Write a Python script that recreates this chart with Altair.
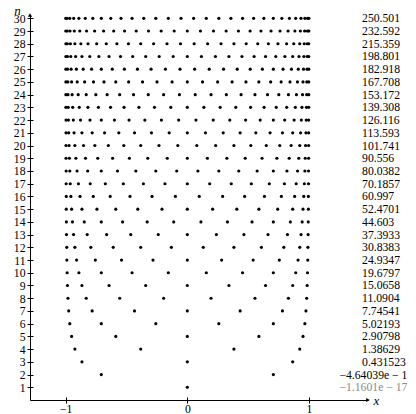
import altair as alt
import pandas as pd

# ---- data ----
n_values = list(range(1, 31))

row_01 = [0.0]
row_02 = [-0.707, 0.707]
row_03 = [-0.866, 0.0, 0.866]
row_04 = [-0.924, -0.383, 0.383, 0.924]
row_05 = [-0.951, -0.588, 0.0, 0.588, 0.951]
row_06 = [-0.966, -0.707, -0.259, 0.259, 0.707, 0.966]
row_07 = [-0.975, -0.782, -0.434, 0.0, 0.434, 0.782, 0.975]
row_08 = [-0.981, -0.831, -0.556, -0.195, 0.195, 0.556, 0.831, 0.981]
row_09 = [-0.985, -0.866, -0.643, -0.342, 0.0, 0.342, 0.643, 0.866, 0.985]
row_10 = [-0.988, -0.891, -0.707, -0.454, -0.156, 0.156, 0.454, 0.707, 0.891, 0.988]
row_11 = [-0.990, -0.910, -0.756, -0.541, -0.282, 0.0, 0.282, 0.541, 0.756, 0.910, 0.990]
row_12 = [-0.991, -0.924, -0.793, -0.609, -0.383, -0.131, 0.131, 0.383, 0.609, 0.793, 0.924, 0.991]
row_13 = [-0.993, -0.935, -0.823, -0.663, -0.465, -0.239, 0.0, 0.239, 0.465, 0.663, 0.823, 0.935, 0.993]
row_14 = [-0.994, -0.944, -0.847, -0.707, -0.532, -0.330, -0.112, 0.112, 0.330, 0.532, 0.707, 0.847, 0.944, 0.994]
row_15 = [-0.995, -0.951, -0.866, -0.743, -0.588, -0.407, -0.208, 0.0, 0.208, 0.407, 0.588, 0.743, 0.866, 0.951, 0.995]
row_16 = [-0.995, -0.957, -0.882, -0.773, -0.634, -0.471, -0.290, -0.098, 0.098, 0.290, 0.471, 0.634, 0.773, 0.882, 0.957, 0.995]
row_17 = [-0.996, -0.962, -0.895, -0.798, -0.674, -0.526, -0.361, -0.184, 0.0, 0.184, 0.361, 0.526, 0.674, 0.798, 0.895, 0.962, 0.996]
row_18 = [-0.996, -0.966, -0.906, -0.819, -0.707, -0.574, -0.423, -0.259, -0.087, 0.087, 0.259, 0.423, 0.574, 0.707, 0.819, 0.906, 0.966, 0.996]
row_19 = [-0.997, -0.969, -0.916, -0.837, -0.736, -0.614, -0.476, -0.325, -0.165, 0.0, 0.165, 0.325, 0.476, 0.614, 0.736, 0.837, 0.916, 0.969, 0.997]
row_20 = [-0.997, -0.972, -0.924, -0.853, -0.760, -0.649, -0.522, -0.383, -0.233, -0.078, 0.078, 0.233, 0.383, 0.522, 0.649, 0.760, 0.853, 0.924, 0.972, 0.997]
row_21 = [-0.997, -0.975, -0.931, -0.866, -0.782, -0.680, -0.563, -0.434, -0.295, -0.149, 0.0, 0.149, 0.295, 0.434, 0.563, 0.680, 0.782, 0.866, 0.931, 0.975, 0.997]
row_22 = [-0.997, -0.977, -0.937, -0.878, -0.800, -0.707, -0.599, -0.479, -0.349, -0.213, -0.071, 0.071, 0.213, 0.349, 0.479, 0.599, 0.707, 0.800, 0.878, 0.937, 0.977, 0.997]
row_23 = [-0.998, -0.979, -0.942, -0.888, -0.817, -0.731, -0.631, -0.520, -0.398, -0.270, -0.136, 0.0, 0.136, 0.270, 0.398, 0.520, 0.631, 0.731, 0.817, 0.888, 0.942, 0.979, 0.998]
row_24 = [-0.998, -0.981, -0.947, -0.897, -0.831, -0.752, -0.659, -0.556, -0.442, -0.321, -0.195, -0.065, 0.065, 0.195, 0.321, 0.442, 0.556, 0.659, 0.752, 0.831, 0.897, 0.947, 0.981, 0.998]
row_25 = [-0.998, -0.982, -0.951, -0.905, -0.844, -0.771, -0.685, -0.588, -0.482, -0.368, -0.249, -0.125, 0.0, 0.125, 0.249, 0.368, 0.482, 0.588, 0.685, 0.771, 0.844, 0.905, 0.951, 0.982, 0.998]
row_26 = [-0.998, -0.984, -0.955, -0.912, -0.856, -0.787, -0.707, -0.617, -0.517, -0.410, -0.298, -0.180, -0.060, 0.060, 0.180, 0.298, 0.410, 0.517, 0.617, 0.707, 0.787, 0.856, 0.912, 0.955, 0.984, 0.998]
row_27 = [-0.998, -0.985, -0.958, -0.918, -0.866, -0.802, -0.727, -0.643, -0.549, -0.449, -0.342, -0.231, -0.116, 0.0, 0.116, 0.231, 0.342, 0.449, 0.549, 0.643, 0.727, 0.802, 0.866, 0.918, 0.958, 0.985, 0.998]
row_28 = [-0.998, -0.986, -0.961, -0.924, -0.875, -0.816, -0.745, -0.666, -0.579, -0.484, -0.383, -0.277, -0.167, -0.056, 0.056, 0.167, 0.277, 0.383, 0.484, 0.579, 0.666, 0.745, 0.816, 0.875, 0.924, 0.961, 0.986, 0.998]
row_29 = [-0.999, -0.987, -0.964, -0.929, -0.884, -0.828, -0.762, -0.688, -0.605, -0.516, -0.420, -0.319, -0.215, -0.108, 0.0, 0.108, 0.215, 0.319, 0.420, 0.516, 0.605, 0.688, 0.762, 0.828, 0.884, 0.929, 0.964, 0.987, 0.999]
row_30 = [-0.999, -0.988, -0.966, -0.934, -0.891, -0.839, -0.777, -0.707, -0.629, -0.545, -0.454, -0.358, -0.259, -0.156, -0.052, 0.052, 0.156, 0.259, 0.358, 0.454, 0.545, 0.629, 0.707, 0.777, 0.839, 0.891, 0.934, 0.966, 0.988, 0.999]

rows = [row_01, row_02, row_03, row_04, row_05, row_06, row_07, row_08, row_09, row_10,
        row_11, row_12, row_13, row_14, row_15, row_16, row_17, row_18, row_19, row_20,
        row_21, row_22, row_23, row_24, row_25, row_26, row_27, row_28, row_29, row_30]

row_labels = ["\u22121.1601e \u2212 17", "\u22124.64039e \u2212 17", "0.431523", "1.38629",
              "2.90798", "5.02193", "7.74541", "11.0904", "15.0658", "19.6797",
              "24.9347", "30.8383", "37.3933", "44.603", "52.4701", "60.997",
              "70.1857", "80.0382", "90.556", "101.741", "113.593", "126.116",
              "139.308", "153.172", "167.708", "182.918", "198.801", "215.359",
              "232.592", "250.501"]
label_colors = ["#8a8a8a"] + ["black"] * 29

x_ticks = [-1, 0, 1]

# ---- layout constants ----
X_DOMAIN = [-1.293, 1.485]
Y_DOMAIN = [0, 30.26]
LABEL_LEFT = 1.436       # left edge of the value column
LABEL_LEFT_LONG = 1.250  # the two long scientific-notation entries start further left
FONT = "Liberation Serif"

pts = pd.DataFrame([{"n": n, "x": x} for n, row in zip(n_values, rows) for x in row])
labs = pd.DataFrame({"n": n_values, "label": row_labels, "col": label_colors})
labs["lx"] = [LABEL_LEFT_LONG if "e" in s else LABEL_LEFT for s in row_labels]
arrows = pd.DataFrame({"x": [X_DOMAIN[0], X_DOMAIN[1]], "y": [Y_DOMAIN[1], Y_DOMAIN[0]],
                       "shape": ["triangle-up", "triangle-right"]})

xs = alt.Scale(domain=X_DOMAIN, nice=False, zero=False)
ys = alt.Scale(domain=Y_DOMAIN, nice=False, zero=False)

points = alt.Chart(pts).mark_circle(size=10, color="black", opacity=1).encode(
    x=alt.X("x:Q", scale=xs, axis=alt.Axis(
        orient="bottom", values=x_ticks, tickSize=3, labelPadding=0, labelFlush=False,
        labelOverlap=False, title="x", titleFontStyle="italic", titleFontWeight="normal",
        titleFontSize=13, titleX=346, titleY=0, titleAlign="center",
        titleBaseline="middle", titleAngle=0)),
    y=alt.Y("n:Q", scale=ys, axis=alt.Axis(
        orient="left", values=n_values, tickSize=3, labelPadding=2, labelFlush=False,
        labelOverlap=False, title="n", titleFontStyle="italic", titleFontWeight="normal",
        titleFontSize=13, titleX=-13, titleY=-1, titleAlign="center",
        titleBaseline="alphabetic", titleAngle=0)),
)

inner_ticks = alt.Chart(pts).mark_circle(opacity=0).encode(
    x=alt.X("x:Q", scale=xs, title=None, axis=alt.Axis(
        orient="bottom", values=x_ticks, tickSize=3, offset=-3, domain=False, labels=False)),
    y=alt.Y("n:Q", scale=ys, title=None, axis=alt.Axis(
        orient="left", values=n_values, tickSize=3, offset=-3, domain=False, labels=False)),
)

texts = alt.Chart(labs).mark_text(font=FONT, fontSize=11.7, align="left",
                                  baseline="middle").encode(
    x=alt.X("lx:Q", scale=xs, axis=None),
    y=alt.Y("n:Q", scale=ys, axis=None),
    text="label:N",
    color=alt.Color("col:N", scale=None),
)

heads = alt.Chart(arrows).mark_point(filled=True, size=18, color="black", opacity=1).encode(
    x=alt.X("x:Q", scale=xs, axis=None),
    y=alt.Y("y:Q", scale=ys, axis=None),
    shape=alt.Shape("shape:N", scale=None),
)

chart = alt.layer(points, inner_ticks, texts, heads).resolve_axis(
    x="independent", y="independent"
).properties(
    width=338, height=385,
    padding={"left": 22, "top": 7, "right": 40, "bottom": 14},
    autosize=alt.AutoSizeParams(type="none"),
    background="white",
).configure_view(stroke=None).configure_axis(
    labelFont=FONT, labelFontSize=11.7, labelColor="black",
    titleFont=FONT, titleColor="black",
    domainColor="black", domainWidth=1, tickColor="black", tickWidth=1, grid=False,
)

chart.save("out.html", embed_options={"renderer": "svg", "actions": False})
